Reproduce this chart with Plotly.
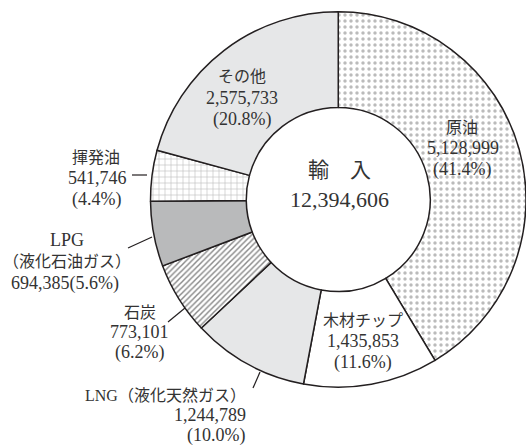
import plotly.graph_objects as go

# ---- data ----
labels = ["原油", "木材チップ", "LNG（液化天然ガス）", "石炭", "LPG（液化石油ガス）", "揮発油", "その他"]
values = [5128999, 1435853, 1244789, 773101, 694385, 541746, 2575733]
total_label = "輸　入"
total_value = 12394606

W, H = 526, 446
FONT = "Liberation Serif, 'Noto Sans CJK JP', serif"
TXT = "#333333"

def px(x):
    return x / W

def py(y):
    return 1 - y / H

total = sum(values)
num = [f"{v:,}" for v in values]
pct = [f"({v / total * 100:.1f}%)" for v in values]

fig = go.Figure()
fig.add_trace(go.Pie(
    labels=labels,
    values=values,
    sort=False,
    direction="clockwise",
    rotation=0,
    hole=0.49,
    textinfo="none",
    showlegend=False,
    domain=dict(x=[150.5 / W, 1.0], y=[1 - 388 / H, 1 - 11 / H]),
    marker=dict(
        colors=["white", "white", "#e6e7e8", "white", "#b9babb", "white", "#e6e7e8"],
        line=dict(color="#231f20", width=1.5),
        pattern=dict(
            shape=[".", "", "", "/", "", "+", ""],
            fgcolor=["#777777", "white", "#e6e7e8", "#111111", "#b9babb", "#707070", "#e6e7e8"],
            bgcolor=["white", "white", "#e6e7e8", "white", "#b9babb", "white", "#e6e7e8"],
            size=[6, 6, 6, 4, 6, 6, 6],
            solidity=[0.26, 0.1, 0.1, 0.36, 0.1, 0.18, 0.1],
            fillmode="overlay",
        ),
    ),
))

annots = []

def add(text, x, y, size=18, xanchor="center"):
    annots.append(dict(text=text, x=px(x), y=py(y), xref="paper", yref="paper",
                       showarrow=False, xanchor=xanchor, yanchor="middle",
                       font=dict(family=FONT, size=size, color=TXT)))

JP = 16  # size of lines with Japanese glyphs

# center
add(total_label, 339, 170, size=21)
add(f"{total_value:,}", 339, 199, size=22)

# 原油
add(labels[0], 462, 127, size=JP)
add(num[0], 463, 148)
add(pct[0], 462, 169)
# 木材チップ
add(labels[1], 363, 320, size=JP)
add(num[1], 363, 341)
add(pct[1], 363, 362)
# LNG
add(labels[2], 248, 395, size=JP, xanchor="right")
add(num[2], 248, 415, xanchor="right")
add(pct[2], 247, 435, xanchor="right")
# 石炭
add(labels[3], 140, 312, size=JP)
add(num[3], 139, 332)
add(pct[3], 139, 352)
# LPG
add("LPG", 67, 240)
add("（液化石油ガス）", 67, 261, size=JP)
add(num[4] + pct[4], 65, 283)
# 揮発油
add(labels[5], 96, 157, size=JP)
add(num[5], 97, 178)
add(pct[5], 96, 199)
# その他
add(labels[6], 242, 77, size=JP)
add(num[6], 242, 98)
add(pct[6], 242, 119)

leaders = [
    (260, 372, 253, 388),   # LNG
    (168, 322, 185, 308),   # 石炭
    (128, 248, 152, 237),   # LPG
    (132, 175, 147, 175),   # 揮発油
]
shapes = [dict(type="line", xref="paper", yref="paper",
               x0=px(a), y0=py(b), x1=px(c), y1=py(d),
               line=dict(color="#231f20", width=1.2)) for a, b, c, d in leaders]

fig.update_layout(
    width=W, height=H,
    margin=dict(l=0, r=0, t=0, b=0),
    paper_bgcolor="white",
    plot_bgcolor="white",
    annotations=annots,
    shapes=shapes,
)

fig.write_html("out.html",
               config={"displayModeBar": False},
               post_script="document.body.style.margin='0';document.body.style.overflow='hidden';")
